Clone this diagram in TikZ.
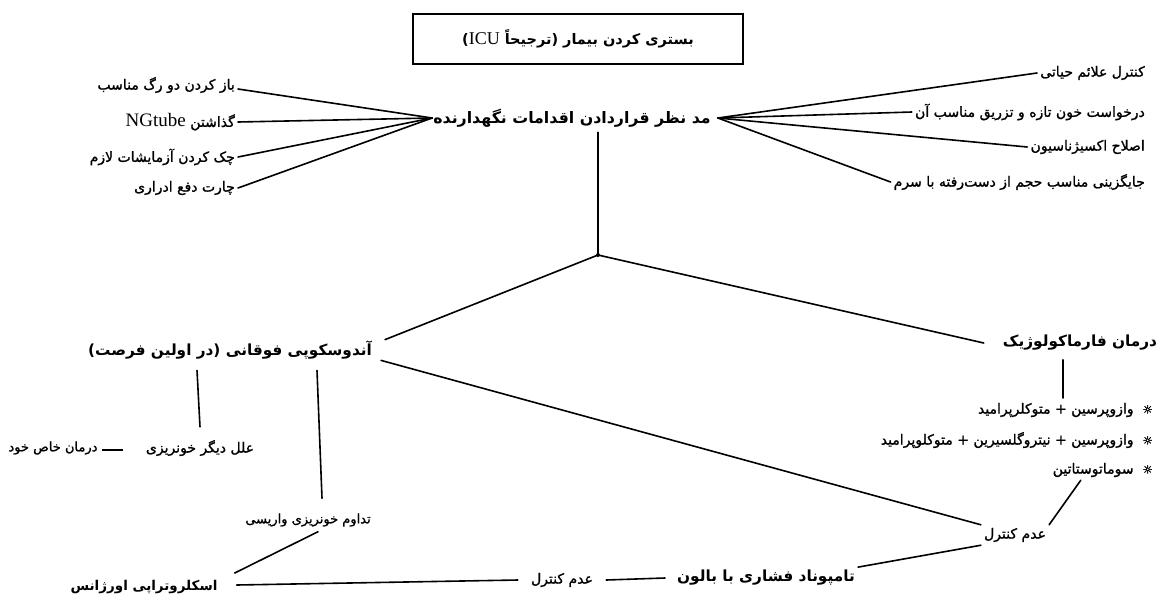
\documentclass[tikz,border=0pt]{standalone}
\usepackage{fontspec}
\TeXXeTstate=1
\newfontfamily\fa[Script=Arabic]{DejaVu Sans}
\newfontfamily\fadark[Script=Arabic,FakeBold=1.2]{DejaVu Sans}
\newfontfamily\lat{Liberation Serif}
\newfontfamily\symdark[FakeBold=2]{DejaVu Sans}
\newcommand\myR[1]{\beginR #1\endR}
\newcommand\bul{{\symdark\fontsize{11.5}{12}\selectfont ☼}}
\begin{document}
\begin{tikzpicture}[x=1pt,y=-1pt,
  t/.style={font=\fadark\fontsize{14}{16}\selectfont, inner sep=3pt},
  ts/.style={font=\fadark\fontsize{13}{15}\selectfont, inner sep=3pt},
  tb/.style={font=\fa\bfseries\fontsize{15.3}{17}\selectfont, inner sep=3pt},
  ln/.style={line width=1.6pt, line cap=round},
]
\fill[white] (0,0) rectangle (1159,606);
\useasboundingbox (0,0) rectangle (1159,606);

% title
\node[draw, line width=1.8pt, minimum width=330pt, minimum height=50pt,
      font=\fa\bfseries\fontsize{14.5}{16}\selectfont] (title) at (578,39)
  {\myR{بستری کردن بیمار (ترجیحاً \beginL{\lat\mdseries\fontsize{18}{20}\selectfont ICU}\endL)}};

% main
\node[tb, inner sep=1pt, font=\fa\bfseries\fontsize{15.8}{17}\selectfont] (main) at (572,118) {\myR{مد نظر قراردادن اقدامات نگهدارنده}};

% left items
\node[t, anchor=east] (l1) at (238,85) {\myR{باز کردن دو رگ مناسب}};
\node[t, anchor=east] (l2) at (238,122) {\myR{گذاشتن \beginL{\lat\fontsize{19}{21}\selectfont NGtube}\endL}};
\node[t, anchor=east] (l3) at (238,157) {\myR{چک کردن آزمایشات لازم}};
\node[t, anchor=east] (l4) at (238,188) {\myR{چارت دفع ادراری}};

% right items
\node[t, anchor=east] (r1) at (1148,73) {\myR{کنترل علائم حیاتی}};
\node[t, anchor=east] (r2) at (1148,112) {\myR{درخواست خون تازه و تزریق مناسب آن}};
\node[t, anchor=east] (r3) at (1148,147) {\myR{اصلاح اکسیژناسیون}};
\node[t, anchor=east] (r4) at (1148,182) {\myR{جایگزینی مناسب حجم از دست‌رفته با سرم}};

\draw[ln] ([yshift=-4pt]l1.east) -- (main.west);
\draw[ln] (l2.east) -- (main.west);
\draw[ln] (l3.east) -- (main.west);
\draw[ln] (l4.east) -- (main.west);
\draw[ln] (r1.west) -- ([xshift=6pt]main.east);
\draw[ln] (r2.west) -- ([xshift=6pt]main.east);
\draw[ln] (r3.west) -- ([xshift=6pt]main.east);
\draw[ln] (r4.west) -- ([xshift=6pt]main.east);

% junction
\coordinate (j) at (598,255);
\draw[ln] ([yshift=-4pt]j |- main.south) -- (j);
\fill (j) circle (2pt);

% second level
\node[tb] (endo) at (230,350) {\myR{آندوسکوپی فوقانی (در اولین فرصت)}};
\node[tb] (pharm) at (1080,343) {\myR{درمان فارماکولوژیک}};
\draw[ln] (j) -- ([xshift=10pt,yshift=-2pt]endo.north east);
\draw[ln] (j) -- ([xshift=-16pt]pharm.west);

% drugs
\coordinate (pv) at (1063,398);
\draw[ln] ([yshift=-6pt]pv |- pharm.south) -- (pv);
\node[t, anchor=east] (d1) at (1156,410) {\myR{\bul~~وازوپرسین + متوکلرپرامید}};
\node[t, anchor=east] (d2) at (1156,440) {\myR{\bul~~وازوپرسین + نیتروگلسیرین + متوکلوپرامید}};
\node[t, anchor=east] (d3) at (1156,470) {\myR{\bul~~سوماتوستاتین}};

% endoscopy branches
\node[t] (other) at (200,448) {\myR{علل دیگر خونریزی}};
\node[ts] (spec) at (53,448) {\myR{درمان خاص خود}};
\draw[line width=2.8pt] ([xshift=-20pt,yshift=-2pt]other.west) -- ([xshift=1pt,yshift=-2pt]spec.east);
\draw[ln] ([xshift=-33pt,yshift=-8pt]endo.south) -- ([yshift=10pt]other.north);

\node[ts] (varices) at (308,520) {\myR{تداوم خونریزی واریسی}};
\draw[ln] ([xshift=87pt,yshift=-8pt]endo.south) -- ([xshift=14pt,yshift=12pt]varices.north);

% control nodes
\node[t] (ctrl2) at (1015,535) {\myR{عدم کنترل}};
\node[tb] (tamp) at (766,578) {\myR{تامپوناد فشاری با بالون}};
\node[t] (ctrl1) at (562,580) {\myR{عدم کنترل}};
\node[tb, font=\fa\bfseries\fontsize{13.5}{15}\selectfont] (sclero) at (144,587) {\myR{اسکلروتراپی اورژانس}};

\draw[ln] ([xshift=-22pt]d3.south) -- (ctrl2.north east);
\draw[ln] ([xshift=6pt,yshift=2pt]endo.south east) -- (ctrl2.north west);
\draw[ln] (ctrl2.south west) -- (tamp.north east);
\draw[ln] ([xshift=-9pt]tamp.west) -- ([xshift=10pt]ctrl1.east);
\draw[ln] ([xshift=-10pt]ctrl1.west) -- ([xshift=16pt,yshift=2pt]sclero.east);
\draw[ln] ([xshift=10pt,yshift=-2pt]varices.south) -- ([xshift=14pt,yshift=4pt]sclero.north east);
\end{tikzpicture}
\end{document}
